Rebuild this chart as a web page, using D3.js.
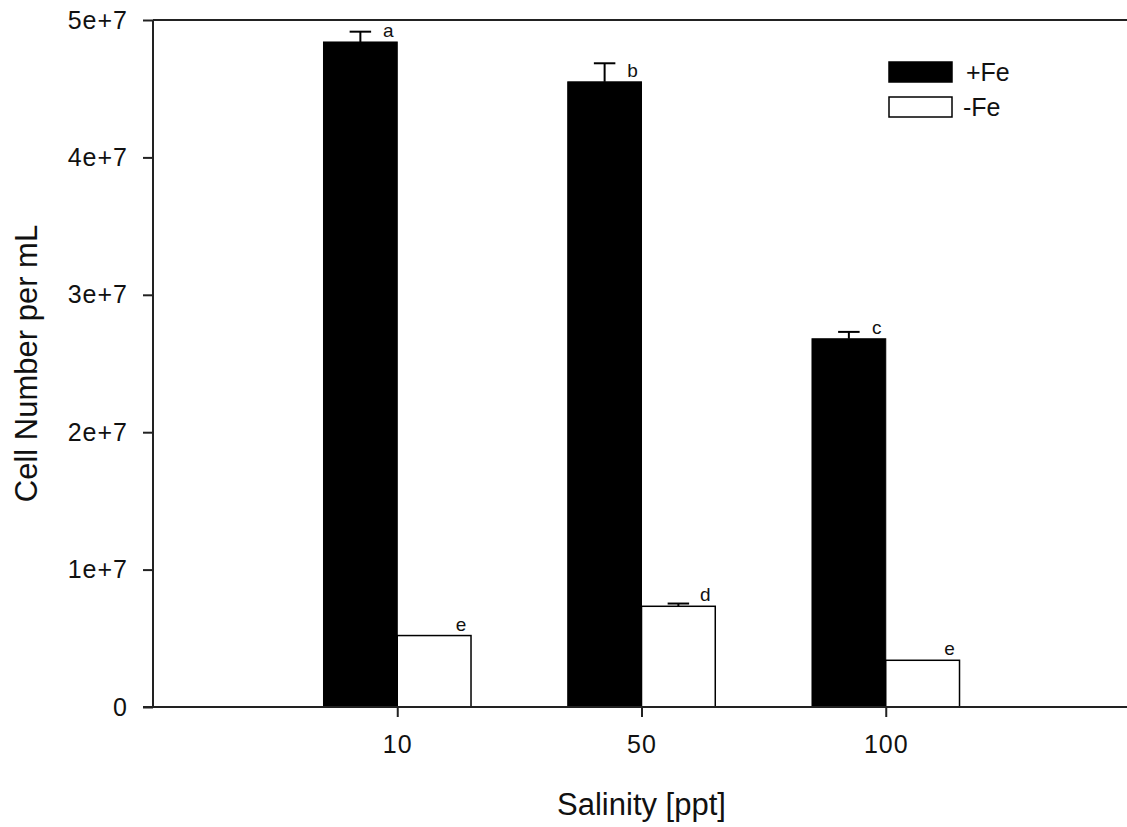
<!DOCTYPE html>
<html>
<head>
<meta charset="utf-8">
<script src="https://cdnjs.cloudflare.com/ajax/libs/d3/7.8.5/d3.min.js"></script>
<style>
  body { margin: 0; background: #fff; }
  text { font-family: "Liberation Sans", Arial, sans-serif; fill: #111; }
</style>
</head>
<body>
<div id="chart"></div>
<script>
// salinity groups and cell counts
var salinity = ["10", "50", "100"];
var plusFe = [4.84e7, 4.55e7, 2.68e7];
var plusFeErr = [0.075e7, 0.135e7, 0.05e7];
var minusFe = [0.52e7, 0.733e7, 0.34e7];
var minusFeErr = [0, 0.02e7, 0];
var plusFeLetters = ["a", "b", "c"];
var minusFeLetters = ["e", "d", "e"];
var yTicks = [0, 1e7, 2e7, 3e7, 4e7, 5e7];

var width = 1127, height = 827;
var plotLeft = 153, plotRight = 1130, plotTop = 20, plotBottom = 707;

var svg = d3.select("#chart")
    .append("svg")
    .attr("width", width)
    .attr("height", height);

// groups sit at 1, 2, 3 on a 0..4 axis
var x = d3.scaleLinear().domain([0, 4]).range([plotLeft, plotRight]);
var y = d3.scaleLinear().domain([0, 5e7]).range([plotBottom, plotTop]);
var barW = 0.302;

var groups = salinity.map(function(s, i) {
    return {pos: i + 1, plus: plusFe[i], plusErr: plusFeErr[i], minus: minusFe[i], minusErr: minusFeErr[i],
            plusLetter: plusFeLetters[i], minusLetter: minusFeLetters[i]};
});

// bars
svg.selectAll(".plusBar").data(groups).enter()
    .append("rect")
    .attr("x", function(d) { return x(d.pos - barW); })
    .attr("y", function(d) { return y(d.plus); })
    .attr("width", function(d) { return x(d.pos) - x(d.pos - barW); })
    .attr("height", function(d) { return y(0) - y(d.plus); })
    .attr("fill", "#000")
    .attr("stroke", "#000")
    .attr("stroke-width", 1);

svg.selectAll(".minusBar").data(groups).enter()
    .append("rect")
    .attr("x", function(d) { return x(d.pos); })
    .attr("y", function(d) { return y(d.minus); })
    .attr("width", function(d) { return x(d.pos + barW) - x(d.pos); })
    .attr("height", function(d) { return y(0) - y(d.minus); })
    .attr("fill", "#fff")
    .attr("stroke", "#000")
    .attr("stroke-width", 1.5);

// error bars (upper only)
var capHalf = 0.044;
function drawErr(val, err, offset) {
    var g = svg.append("g").attr("stroke", "#000").attr("stroke-width", 2);
    var withErr = groups.filter(function(d) { return err(d) > 0; });
    g.selectAll("line.v").data(withErr).enter()
        .append("line")
        .attr("x1", function(d) { return x(d.pos + offset); })
        .attr("x2", function(d) { return x(d.pos + offset); })
        .attr("y1", function(d) { return y(val(d)); })
        .attr("y2", function(d) { return y(val(d) + err(d)); });
    g.selectAll("line.h").data(withErr).enter()
        .append("line")
        .attr("x1", function(d) { return x(d.pos + offset - capHalf); })
        .attr("x2", function(d) { return x(d.pos + offset + capHalf); })
        .attr("y1", function(d) { return y(val(d) + err(d)); })
        .attr("y2", function(d) { return y(val(d) + err(d)); });
}
drawErr(function(d) { return d.plus; }, function(d) { return d.plusErr; }, -barW / 2);
drawErr(function(d) { return d.minus; }, function(d) { return d.minusErr; }, barW / 2);

// significance letters
svg.selectAll(".plusLetter").data(groups).enter()
    .append("text")
    .attr("x", function(d) { return x(d.pos) - 9; })
    .attr("y", function(d) { return y(d.plus) - 5; })
    .attr("text-anchor", "middle")
    .style("font-size", "19px")
    .text(function(d) { return d.plusLetter; });

svg.selectAll(".minusLetter").data(groups).enter()
    .append("text")
    .attr("x", function(d) { return x(d.pos + barW) - 10; })
    .attr("y", function(d) { return y(d.minus) - 5; })
    .attr("text-anchor", "middle")
    .style("font-size", "19px")
    .text(function(d) { return d.minusLetter; });

// frame top line (right side falls off the picture)
svg.append("line")
    .attr("x1", plotLeft).attr("x2", plotRight)
    .attr("y1", plotTop).attr("y2", plotTop)
    .attr("stroke", "#222").attr("stroke-width", 2);

// y axis
var yAxis = svg.append("g")
    .attr("transform", "translate(" + plotLeft + ",0)")
    .call(d3.axisLeft(y).tickValues(yTicks).tickSize(10).tickPadding(15)
        .tickFormat(function(d) { return d === 0 ? "0" : (d / 1e7) + "e+7"; }));
yAxis.select(".domain").attr("stroke", "#222").attr("stroke-width", 2).attr("d", "M0," + plotTop + "V" + plotBottom);
yAxis.selectAll(".tick line").attr("stroke", "#222").attr("stroke-width", 2);
yAxis.selectAll("text").style("font-size", "25px").style("letter-spacing", "1px").attr("fill", "#111");

// x axis
var xAxis = svg.append("g")
    .attr("transform", "translate(0," + plotBottom + ")")
    .call(d3.axisBottom(x).tickValues([1, 2, 3]).tickSize(10).tickPadding(18)
        .tickFormat(function(d) { return salinity[d - 1]; }));
xAxis.select(".domain").attr("stroke", "#222").attr("stroke-width", 2).attr("d", "M" + (plotLeft - 10) + ",0H" + plotRight);
xAxis.selectAll(".tick line").attr("stroke", "#222").attr("stroke-width", 2);
xAxis.selectAll("text").style("font-size", "25px").style("letter-spacing", "1px").attr("fill", "#111");

// axis titles
svg.append("text")
    .attr("transform", "translate(37," + ((plotTop + plotBottom) / 2) + ") rotate(-90)")
    .attr("text-anchor", "middle")
    .style("font-size", "31px")
    .text("Cell Number per mL");

svg.append("text")
    .attr("x", (plotLeft + plotRight) / 2)
    .attr("y", 815)
    .attr("text-anchor", "middle")
    .style("font-size", "31px")
    .text("Salinity [ppt]");

// legend
var legend = [{label: "+Fe", fill: "#000"}, {label: "-Fe", fill: "#fff"}];
var lg = svg.selectAll(".legend").data(legend).enter()
    .append("g")
    .attr("transform", function(d, i) { return "translate(889," + (62 + i * 35) + ")"; });
lg.append("rect")
    .attr("width", 63).attr("height", 20)
    .attr("fill", function(d) { return d.fill; })
    .attr("stroke", "#000").attr("stroke-width", 1.5);
lg.append("text")
    .attr("x", function(d, i) { return i === 0 ? 77 : 74; })
    .attr("y", 19)
    .style("font-size", "25px")
    .text(function(d) { return d.label; });
</script>
</body>
</html>
